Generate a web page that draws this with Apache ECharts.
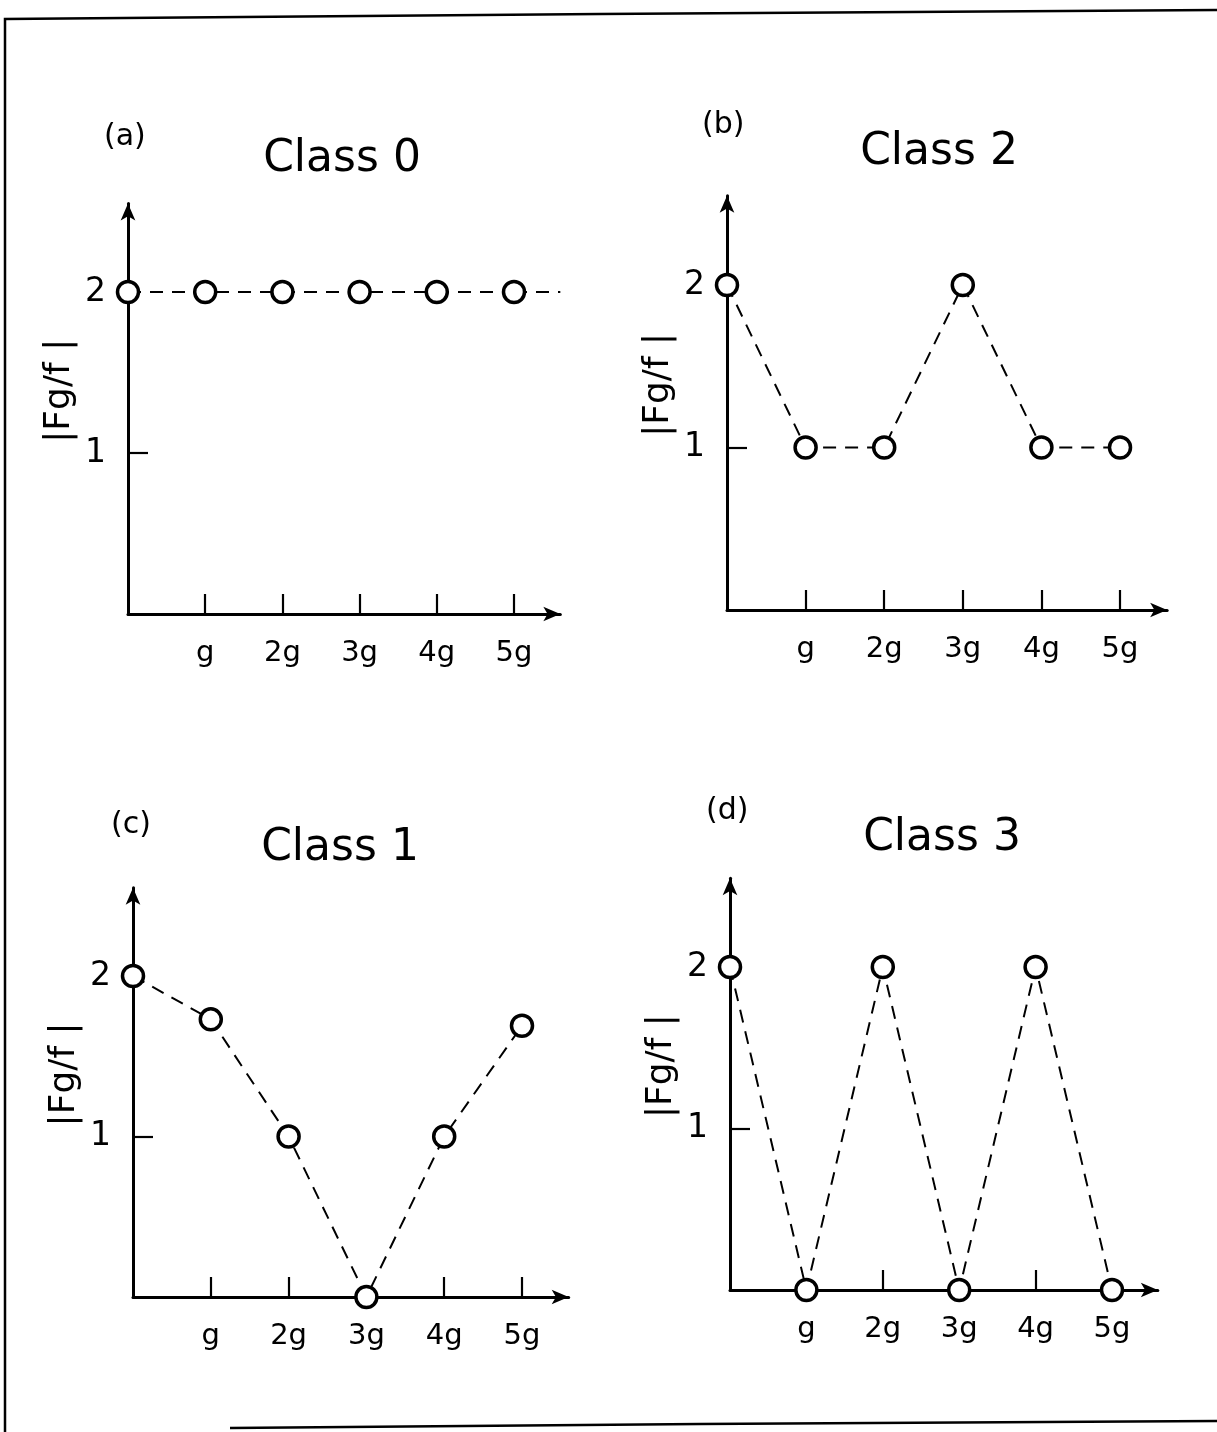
<!DOCTYPE html>
<html>
<head>
<meta charset="utf-8">
<title>Fg/f by class</title>
<script src="https://cdn.jsdelivr.net/npm/echarts@6/dist/echarts.min.js"></script>
<style>
  html, body { margin: 0; padding: 0; background: #fff; }
  #chart { width: 1217px; height: 1432px; }
</style>
</head>
<body>
<div id="chart"></div>
<script>
// Harmonic positions (multiples of g) and their axis labels
const harmonics = [0, 1, 2, 3, 4, 5];
const tickLabels = ['g', '2g', '3g', '4g', '5g'];
const yLabelValues = [1, 2];

// |Fg/f| at each harmonic for the four classes
const class0 = [2, 2, 2, 2, 2, 2];
const class2 = [2, 1, 1, 2, 1, 1];
const class1 = [2, 1.73, 1, 0, 1, 1.69];
const class3 = [2, 0, 2, 0, 2, 0];

const panelTags = ['(a)', '(b)', '(c)', '(d)'];
const panelTitles = ['Class 0', 'Class 2', 'Class 1', 'Class 3'];
const panelValues = [class0, class2, class1, class3];

const X_MAX = 5.6;
const Y_MAX = 2.55;
const FONT = 'DejaVu Sans';

// Plot frames: axis origin, horizontal unit, vertical unit
const frames = [
  { x0: 128, y0: 614, ux: 77.2, uy: 161 },
  { x0: 727, y0: 610, ux: 78.6, uy: 162.5 },
  { x0: 133, y0: 1297, ux: 77.8, uy: 160.5 },
  { x0: 730, y0: 1290, ux: 76.4, uy: 161.5 }
];
const titlePos = [
  { tagX: 104, tagY: 122, cx: 342, ty: 138 },
  { tagX: 702, tagY: 110, cx: 939, ty: 131 },
  { tagX: 111, tagY: 810, cx: 340, ty: 827 },
  { tagX: 706, tagY: 796, cx: 942, ty: 817 }
];

const grids = frames.map(f => ({
  left: f.x0,
  top: f.y0 - Y_MAX * f.uy,
  width: X_MAX * f.ux,
  height: Y_MAX * f.uy,
  containLabel: false
}));

const axisLineStyle = {
  show: true,
  symbol: ['none', 'arrow'],
  symbolSize: [11, 17],
  lineStyle: { color: '#000', width: 3 }
};

// Tick marks are hidden behind points that sit on the baseline
const xAxes = frames.map((f, i) => ({
  type: 'value',
  gridIndex: i,
  min: 0,
  max: X_MAX,
  axisLine: axisLineStyle,
  splitLine: { show: false },
  axisTick: {
    show: true, inside: true, length: 20,
    customValues: harmonics.slice(1).filter(h => panelValues[i][h] !== 0),
    lineStyle: { color: '#000', width: 2.2 }
  },
  axisLabel: {
    show: true,
    customValues: harmonics.slice(1),
    formatter: v => tickLabels[Math.round(v) - 1],
    margin: 25,
    color: '#000',
    fontFamily: FONT,
    fontSize: 29
  }
}));

const yAxes = frames.map((f, i) => ({
  type: 'value',
  gridIndex: i,
  min: 0,
  max: Y_MAX,
  name: '|Fg/f |',
  nameLocation: 'middle',
  nameRotate: 90,
  nameGap: 50,
  nameTextStyle: {
    color: '#000', fontFamily: FONT, fontSize: 36,
    padding: [0, 0, 0, 36]
  },
  axisLine: axisLineStyle,
  splitLine: { show: false },
  axisTick: {
    show: true, inside: true, length: 20,
    customValues: [1],
    lineStyle: { color: '#000', width: 2.2 }
  },
  axisLabel: {
    show: true,
    customValues: yLabelValues,
    formatter: v => String(Math.round(v)),
    margin: 22,
    color: '#000',
    fontFamily: FONT,
    fontSize: 33
  }
}));

const dashed = { color: '#000', width: 2, type: [13, 9] };

const series = panelValues.map((vals, i) => ({
  type: 'line',
  xAxisIndex: i,
  yAxisIndex: i,
  data: harmonics.map((h, k) => [h, vals[k]]),
  clip: false,
  symbol: 'circle',
  symbolSize: 21,
  showSymbol: true,
  lineStyle: dashed,
  itemStyle: { color: '#fff', borderColor: '#000', borderWidth: 3.5 },
  z: 5,
  animation: false
}));

// Class 0 keeps running beyond 5g at the same level
series.push({
  type: 'line',
  xAxisIndex: 0,
  yAxisIndex: 0,
  data: [[harmonics[5], class0[5]], [X_MAX, class0[5]]],
  clip: false,
  showSymbol: false,
  lineStyle: dashed,
  z: 4,
  animation: false
});

const titles = [];
titlePos.forEach((p, i) => {
  titles.push({
    text: panelTitles[i],
    left: p.cx, top: p.ty, textAlign: 'center', padding: 0,
    textStyle: { color: '#000', fontFamily: FONT, fontSize: 44, fontWeight: 'normal' }
  });
  titles.push({
    text: panelTags[i],
    left: p.tagX, top: p.tagY, padding: 0,
    textStyle: { color: '#000', fontFamily: FONT, fontSize: 30, fontWeight: 'normal' }
  });
});

const chart = echarts.init(document.getElementById('chart'), null, { renderer: 'canvas' });
chart.setOption({
  backgroundColor: '#fff',
  animation: false,
  title: titles,
  grid: grids,
  xAxis: xAxes,
  yAxis: yAxes,
  series: series,
  graphic: [
    {
      type: 'polyline',
      shape: { points: [[1217, 10], [600, 14], [5, 19], [5, 1432]] },
      style: { stroke: '#000', lineWidth: 2.5, fill: null },
      silent: true
    },
    {
      type: 'polyline',
      shape: { points: [[230, 1428], [700, 1424], [1217, 1421]] },
      style: { stroke: '#000', lineWidth: 2.5, fill: null },
      silent: true
    }
  ]
});
</script>
</body>
</html>
